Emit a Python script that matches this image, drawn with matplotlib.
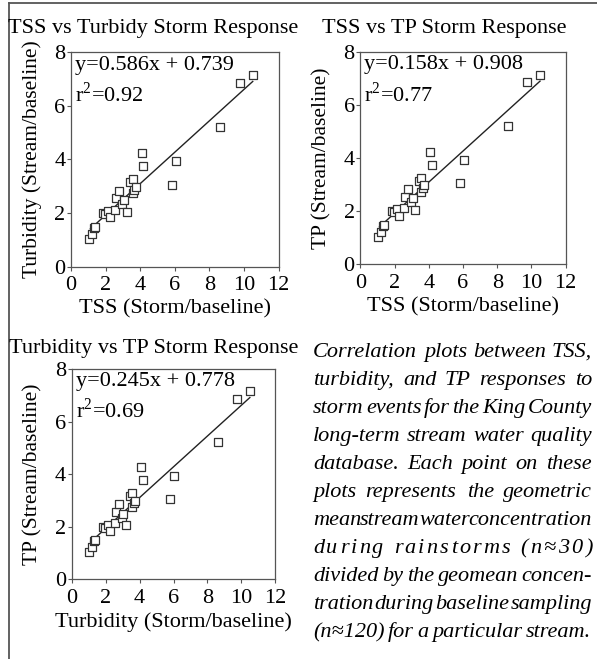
import numpy as np
import matplotlib
matplotlib.use("Agg")
import matplotlib.pyplot as plt
from matplotlib.lines import Line2D
from matplotlib.font_manager import FontProperties, findfont, get_font
from matplotlib.ft2font import LOAD_NO_HINTING

plt.rcParams['font.family'] = ['Liberation Serif', 'DejaVu Serif']
plt.rcParams['mathtext.fontset'] = 'custom'
plt.rcParams['mathtext.rm'] = 'Liberation Serif'

# storm/baseline ratios (all three panels show the same points)
ratio_x = [1.02, 1.2, 1.3, 1.38, 1.85, 1.97, 2.12, 2.25, 2.55, 2.6, 2.8, 2.95, 3.05,
           3.22, 3.42, 3.56, 3.56, 3.65, 3.75, 4.1, 4.18, 5.82, 6.05, 8.63, 9.76, 10.5]
ratio_y = [1.04, 1.21, 1.43, 1.47, 2.0, 1.96, 2.07, 1.84, 2.12, 2.55, 2.84, 2.34, 2.49,
           2.04, 3.16, 3.27, 2.74, 2.88, 2.98, 4.25, 3.76, 3.05, 3.93, 5.21, 6.87, 7.16]

titles = ["TSS vs Turbidy Storm Response", "TSS vs TP Storm Response",
          "Turbidity vs TP Storm Response"]
xlabels = ["TSS (Storm/baseline)", "TSS (Storm/baseline)", "Turbidity (Storm/baseline)"]
ylabels = ["Turbidity (Stream/baseline)", "TP (Stream/baseline)", "TP (Stream/baseline)"]
equations = ["y=0.586x + 0.739", "y=0.158x + 0.908", "y=0.245x + 0.778"]
r2_values = ["0.92", "0.77", "0.69"]

caption_lines = [
    "Correlation plots between TSS,",
    "turbidity, and TP responses to",
    "storm events for the King County",
    "long-term stream water quality",
    "database. Each point on these",
    "plots represents the geometric",
    "mean stream water concentration",
    "during rainstorms (n\u224830)",
    "divided by the geomean concen-",
    "tration during baseline sampling",
    "(n\u2248120) for a particular stream.",
]

W, H = 597, 659
fig = plt.figure(figsize=(W / 100, H / 100), dpi=100)

# axes boxes in pixels: left, top, right, bottom
boxes = [(71, 52.3, 278.7, 266.7), (360.3, 52.3, 565.7, 264.3), (71.7, 369, 275.3, 579)]
title_pos = [(8, 33), (322, 33), (9, 353)]

x = np.array(ratio_x)
y = np.array(ratio_y)
slope, icpt = np.polyfit(x, y, 1)
xf = np.array([x.min() + 0.1, x.max()])

for i, (l, t, r, b) in enumerate(boxes):
    ax = fig.add_axes([l / W, 1 - b / H, (r - l) / W, (b - t) / H])
    ax.scatter(x, y, marker='s', s=30, facecolors='white', edgecolors='#333333',
               linewidths=0.9, zorder=3)
    ax.plot(xf, slope * xf + icpt, color='#222222', lw=1.0, zorder=2)
    ax.set_xlim(0, 12)
    ax.set_ylim(0, 8)
    ax.set_xticks(range(0, 13, 2))
    ax.set_yticks(range(0, 9, 2))
    for s in ax.spines.values():
        s.set_color('#555555')
        s.set_linewidth(0.9)
    ax.tick_params(direction='out', length=3, width=0.8, color='#555555',
                   labelsize=16)
    ax.tick_params(axis='x', pad=4)
    ax.tick_params(axis='y', pad=1)
    ax.set_xlabel(xlabels[i], fontsize=16, labelpad=3)
    ax.set_ylabel(ylabels[i], fontsize=15.5, labelpad=9)
    ax.text(0.02, 0.985, equations[i], transform=ax.transAxes, fontsize=16,
            va='top', ha='left')
    ax.text(0.02, 0.86, r"r$^{2}$=" + r2_values[i], transform=ax.transAxes,
            fontsize=16, va='top', ha='left')
    tx, ty = title_pos[i]
    fig.text(tx / W, 1 - ty / H, titles[i], fontsize=16, ha='left', va='baseline')

# justified italic caption, laid out with glyph advances
cap_font = get_font(findfont(FontProperties(family='Liberation Serif', style='italic')))
cap_font.set_size(16, 100)


def adv(s):
    total = 0.0
    for c in s:
        g = cap_font.load_char(ord(c), flags=LOAD_NO_HINTING)
        total += g.linearHoriAdvance / 65536
    return total


cap_left, cap_right = 313, 592
base0, step = 357, 28
target = cap_right - cap_left

for k, line in enumerate(caption_lines):
    yfrac = 1 - (base0 + k * step) / H
    words = line.split(" ")
    natural = adv(line)
    word_gap = (target - natural) / max(len(words) - 1, 1)
    if word_gap > 20:
        # loose line: spread the letters instead of the words
        extra = (target - natural) / (len(line) - 1)
        pos = cap_left
        for c in line:
            if c != " ":
                fig.text(pos / W, yfrac, c, fontsize=16, style='italic',
                         ha='left', va='baseline')
            pos += adv(c) + extra
    else:
        widths = [adv(w) for w in words]
        gap = (target - sum(widths)) / max(len(words) - 1, 1)
        pos = cap_left
        for w, wd in zip(words, widths):
            fig.text(pos / W, yfrac, w, fontsize=16, style='italic',
                     ha='left', va='baseline')
            pos += wd + gap

# border: top and left
fig.add_artist(Line2D([8.5 / W, 1], [1 - 2.5 / H, 1 - 2.5 / H], color='#555555', lw=1.3))
fig.add_artist(Line2D([8.5 / W, 8.5 / W], [0, 1 - 2.5 / H], color='#555555', lw=1.3))

fig.savefig("out.png", dpi=100)
